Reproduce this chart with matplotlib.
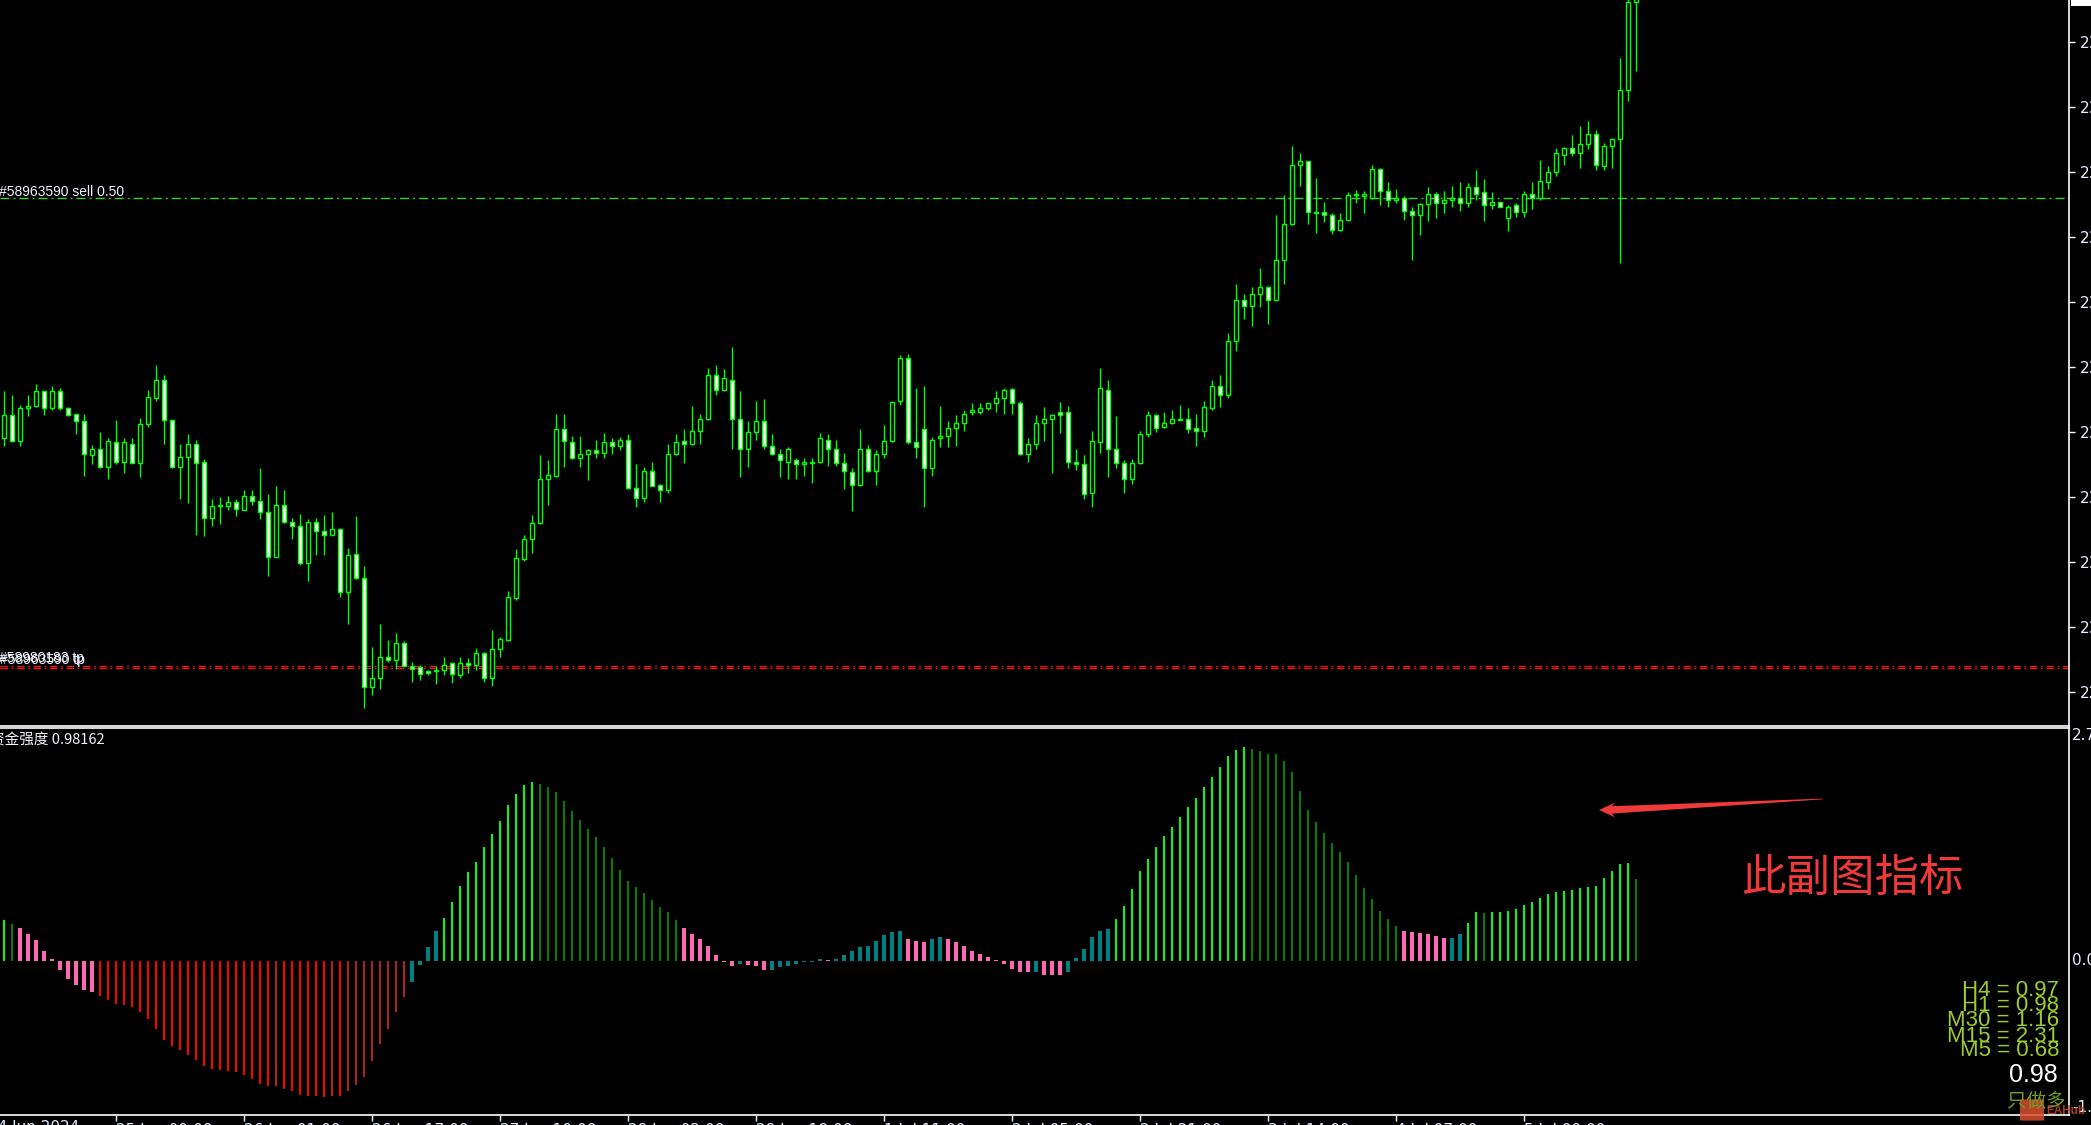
import matplotlib
matplotlib.use("Agg")
import matplotlib.pyplot as plt
from matplotlib.patches import Polygon, Rectangle, FancyBboxPatch
import numpy as np

# ===== Figure geometry (pixels) =====
W, H = 2091, 1125
DPI = 100
AX_RIGHT = 2069
MAIN_BOT = 726
SUB_TOP, SUB_BOT = 728, 1115

# ===== Data: H1 candles (XAUUSD) =====
opens = [
    2314.5, 2316.3, 2314.3, 2316.8, 2317.0, 2318.1, 2316.8, 2318.1, 2316.8, 2316.4,
    2315.8, 2313.2, 2313.7, 2312.3, 2314.2, 2312.7, 2314.1, 2312.6, 2315.6, 2317.6,
    2319.0, 2315.9, 2312.3, 2313.1, 2314.1, 2312.7, 2308.4, 2309.3, 2309.3, 2309.6,
    2309.0, 2310.1, 2309.7, 2308.8, 2305.4, 2309.4, 2308.1, 2307.8, 2304.9, 2308.1,
    2307.4, 2307.1, 2307.5, 2302.7, 2305.6, 2303.8, 2295.4, 2296.1, 2297.7, 2297.5,
    2298.8, 2297.0, 2296.9, 2296.6, 2296.6, 2296.7, 2297.2, 2296.3, 2297.2, 2297.1,
    2298.0, 2296.1, 2298.3, 2299.0, 2302.2, 2305.2, 2306.8, 2308.0, 2311.4, 2311.6,
    2315.2, 2314.2, 2313.0, 2313.3, 2313.6, 2313.4, 2314.2, 2313.9, 2314.4, 2310.7,
    2309.9, 2312.0, 2310.9, 2310.5, 2313.3, 2314.3, 2314.1, 2315.1, 2316.0, 2319.4,
    2318.2, 2319.0, 2316.0, 2313.7, 2315.0, 2315.8, 2313.9, 2313.3, 2312.7, 2312.8,
    2312.5, 2312.7, 2312.7, 2314.4, 2313.7, 2312.6, 2311.9, 2310.9, 2313.7, 2312.0,
    2313.3, 2314.3, 2317.4, 2320.7, 2314.2, 2315.2, 2312.2, 2314.5, 2314.7, 2315.3,
    2315.7, 2316.5, 2316.5, 2316.8, 2317.2, 2317.6, 2318.3, 2317.2, 2313.3, 2314.1,
    2315.7, 2316.0, 2316.5, 2316.5, 2312.7, 2312.5, 2310.3, 2314.2, 2318.2, 2313.7,
    2312.6, 2311.4, 2312.6, 2314.8, 2316.3, 2315.4, 2315.7, 2315.9, 2316.0, 2315.3,
    2315.1, 2316.8, 2318.5, 2317.8, 2322.0, 2325.1, 2324.7, 2325.6, 2326.1, 2325.1,
    2328.2, 2331.0, 2335.5, 2335.8, 2331.8, 2331.9, 2331.7, 2330.5, 2331.3, 2333.2,
    2333.1, 2333.0, 2335.2, 2333.5, 2332.8, 2333.0, 2332.0, 2331.7, 2332.5, 2333.3,
    2332.6, 2332.8, 2333.0, 2332.6, 2333.8, 2333.4, 2332.4, 2332.7, 2331.4, 2332.4,
    2331.9, 2333.3, 2333.0, 2334.2, 2335.0, 2336.3, 2336.8, 2336.4, 2337.1, 2337.9,
    2335.4, 2337.0, 2337.5, 2341.3, 2348.0,
]
highs = [
    2318.1, 2317.8, 2317.1, 2317.8, 2318.7, 2318.1, 2318.5, 2318.4, 2316.9, 2316.4,
    2316.4, 2314.0, 2315.0, 2314.5, 2315.9, 2314.5, 2314.5, 2316.1, 2318.2, 2320.1,
    2319.4, 2315.9, 2314.1, 2314.8, 2314.4, 2312.9, 2309.8, 2310.0, 2310.1, 2309.8,
    2310.5, 2310.5, 2312.2, 2310.2, 2310.8, 2310.5, 2308.4, 2308.7, 2308.3, 2308.4,
    2308.6, 2308.8, 2307.6, 2306.1, 2308.5, 2304.7, 2298.5, 2300.2, 2299.0, 2299.5,
    2298.9, 2297.3, 2297.1, 2296.7, 2297.0, 2297.7, 2297.3, 2297.7, 2297.6, 2298.4,
    2298.1, 2299.8, 2299.2, 2302.8, 2306.0, 2307.1, 2308.6, 2313.2, 2312.8, 2316.4,
    2316.4, 2314.7, 2314.7, 2313.7, 2314.4, 2314.9, 2314.5, 2314.6, 2314.8, 2312.5,
    2312.3, 2312.7, 2311.0, 2314.1, 2314.8, 2315.2, 2317.0, 2316.4, 2319.9, 2320.1,
    2319.8, 2321.5, 2318.1, 2315.8, 2317.4, 2317.5, 2314.8, 2313.7, 2313.8, 2313.0,
    2313.0, 2313.0, 2314.9, 2314.8, 2314.4, 2313.4, 2312.2, 2315.2, 2314.0, 2313.6,
    2315.5, 2317.4, 2320.9, 2321.0, 2318.4, 2318.5, 2314.6, 2317.0, 2315.8, 2316.3,
    2316.7, 2317.2, 2317.2, 2317.2, 2318.1, 2318.4, 2318.4, 2317.4, 2314.5, 2316.3,
    2316.9, 2316.4, 2317.3, 2317.0, 2313.7, 2313.2, 2315.1, 2319.9, 2319.0, 2316.2,
    2312.8, 2312.9, 2315.1, 2316.6, 2316.4, 2316.5, 2316.7, 2317.1, 2316.8, 2316.4,
    2317.4, 2319.0, 2319.4, 2322.6, 2326.4, 2325.6, 2326.1, 2327.6, 2326.2, 2331.7,
    2333.2, 2337.0, 2336.4, 2335.8, 2334.5, 2332.7, 2331.8, 2331.8, 2333.4, 2333.6,
    2333.5, 2335.5, 2335.3, 2334.2, 2333.7, 2333.1, 2332.3, 2332.6, 2333.8, 2333.4,
    2333.5, 2333.9, 2334.2, 2334.1, 2335.1, 2334.4, 2333.4, 2332.7, 2332.4, 2332.6,
    2333.5, 2334.2, 2335.9, 2335.4, 2336.8, 2336.9, 2337.8, 2338.5, 2338.9, 2338.2,
    2337.2, 2337.6, 2343.7, 2348.6, 2349.0,
]
lows = [
    2313.9, 2314.2, 2313.9, 2316.2, 2316.9, 2316.3, 2316.7, 2316.7, 2316.2, 2314.8,
    2311.6, 2312.5, 2312.2, 2311.4, 2312.5, 2311.8, 2312.6, 2311.5, 2315.4, 2317.4,
    2314.1, 2312.2, 2309.8, 2309.5, 2307.1, 2307.0, 2307.8, 2307.9, 2309.0, 2308.5,
    2309.0, 2309.4, 2308.3, 2303.9, 2305.4, 2308.0, 2306.8, 2304.8, 2303.5, 2305.5,
    2305.5, 2307.1, 2302.3, 2300.2, 2303.7, 2293.8, 2294.8, 2295.2, 2297.3, 2296.8,
    2297.0, 2295.8, 2295.9, 2296.3, 2295.6, 2296.3, 2295.7, 2296.1, 2296.5, 2296.7,
    2295.8, 2295.5, 2297.7, 2298.9, 2302.1, 2305.1, 2305.7, 2307.9, 2309.4, 2311.5,
    2312.3, 2312.9, 2312.3, 2311.3, 2313.0, 2313.0, 2313.3, 2313.6, 2310.6, 2309.2,
    2309.6, 2310.8, 2309.6, 2310.3, 2313.2, 2312.6, 2314.0, 2314.1, 2315.9, 2317.8,
    2318.1, 2313.7, 2311.5, 2312.3, 2314.4, 2313.7, 2313.2, 2311.5, 2311.4, 2311.4,
    2311.6, 2311.1, 2312.6, 2312.4, 2312.4, 2310.6, 2308.9, 2310.8, 2311.9, 2310.9,
    2313.0, 2314.2, 2317.1, 2314.1, 2313.0, 2309.2, 2311.6, 2313.8, 2313.8, 2313.9,
    2315.1, 2316.3, 2316.4, 2316.7, 2316.5, 2316.4, 2316.4, 2313.2, 2312.7, 2313.7,
    2314.3, 2311.8, 2314.9, 2312.2, 2312.1, 2309.8, 2309.2, 2313.4, 2311.5, 2312.2,
    2310.3, 2311.0, 2312.5, 2314.6, 2315.0, 2315.3, 2315.6, 2315.9, 2314.9, 2313.9,
    2314.6, 2316.7, 2316.9, 2317.6, 2321.2, 2323.7, 2323.1, 2324.6, 2323.3, 2325.1,
    2326.4, 2330.9, 2333.9, 2331.0, 2330.3, 2331.1, 2330.2, 2330.4, 2331.2, 2332.6,
    2331.8, 2332.9, 2332.4, 2332.3, 2332.6, 2331.3, 2328.2, 2330.1, 2331.2, 2331.4,
    2331.8, 2332.3, 2332.0, 2332.3, 2332.8, 2331.2, 2332.1, 2332.3, 2330.4, 2331.5,
    2331.5, 2332.1, 2332.8, 2333.7, 2334.7, 2335.5, 2336.2, 2335.3, 2336.7, 2335.1,
    2335.1, 2335.3, 2328.0, 2340.4, 2342.7,
]
closes = [
    2316.3, 2314.3, 2316.8, 2317.0, 2318.1, 2316.8, 2318.1, 2316.8, 2316.3, 2315.8,
    2313.3, 2313.7, 2312.3, 2314.3, 2312.7, 2314.2, 2312.6, 2315.6, 2317.7, 2319.0,
    2315.9, 2312.3, 2313.1, 2314.1, 2312.6, 2308.4, 2309.3, 2309.3, 2309.6, 2309.1,
    2310.1, 2309.7, 2308.8, 2305.4, 2309.4, 2308.1, 2307.8, 2304.9, 2308.1, 2307.4,
    2307.1, 2307.5, 2302.7, 2305.5, 2303.8, 2295.4, 2296.1, 2297.7, 2297.5, 2298.8,
    2297.0, 2296.8, 2296.4, 2296.5, 2296.7, 2297.1, 2296.4, 2297.2, 2297.1, 2298.0,
    2296.1, 2298.3, 2299.1, 2302.3, 2305.3, 2306.8, 2308.0, 2311.4, 2311.7, 2315.2,
    2314.3, 2313.0, 2313.3, 2313.6, 2313.4, 2314.2, 2313.9, 2314.4, 2310.7, 2309.9,
    2312.0, 2310.8, 2310.5, 2313.3, 2314.2, 2314.1, 2315.1, 2316.0, 2319.4, 2318.2,
    2319.1, 2316.0, 2313.7, 2315.0, 2315.8, 2313.9, 2313.3, 2312.8, 2313.7, 2312.5,
    2312.7, 2312.6, 2314.5, 2313.7, 2312.6, 2312.0, 2310.9, 2313.7, 2312.0, 2313.3,
    2314.3, 2317.3, 2320.7, 2314.2, 2313.8, 2312.2, 2314.4, 2314.7, 2315.3, 2315.7,
    2316.4, 2316.7, 2316.8, 2317.2, 2317.6, 2318.2, 2317.2, 2313.3, 2314.1, 2315.7,
    2316.0, 2316.3, 2316.3, 2312.7, 2312.5, 2310.2, 2314.3, 2318.4, 2313.7, 2312.6,
    2311.4, 2312.6, 2314.8, 2316.3, 2315.3, 2315.7, 2316.0, 2316.0, 2315.2, 2315.1,
    2316.9, 2318.5, 2317.8, 2322.0, 2325.1, 2324.7, 2325.6, 2326.1, 2325.1, 2328.2,
    2331.0, 2335.5, 2335.8, 2331.9, 2331.9, 2331.7, 2330.5, 2331.3, 2333.2, 2333.3,
    2333.3, 2335.2, 2333.5, 2332.8, 2333.0, 2332.0, 2331.7, 2332.5, 2333.3, 2332.6,
    2332.8, 2333.0, 2332.6, 2333.8, 2333.3, 2332.4, 2332.7, 2332.3, 2332.3, 2331.9,
    2333.3, 2333.0, 2334.3, 2335.0, 2336.4, 2336.8, 2336.4, 2337.1, 2337.9, 2335.5,
    2337.0, 2337.5, 2341.3, 2348.0, 2348.4,
]

# ===== Data: indicator histogram =====
hist_vals = [
    0.49, 0.44, 0.39, 0.32, 0.25, 0.12, 0.02, -0.11, -0.22, -0.29,
    -0.35, -0.37, -0.42, -0.47, -0.52, -0.53, -0.56, -0.61, -0.70, -0.82,
    -0.95, -1.02, -1.07, -1.13, -1.19, -1.27, -1.30, -1.31, -1.33, -1.34,
    -1.37, -1.42, -1.48, -1.51, -1.50, -1.54, -1.57, -1.61, -1.62, -1.63,
    -1.64, -1.63, -1.63, -1.56, -1.49, -1.40, -1.20, -1.00, -0.82, -0.61,
    -0.43, -0.25, -0.05, 0.16, 0.36, 0.51, 0.70, 0.90, 1.06, 1.18,
    1.36, 1.52, 1.68, 1.87, 2.00, 2.11, 2.14, 2.12, 2.08, 2.03,
    1.92, 1.80, 1.69, 1.58, 1.48, 1.36, 1.23, 1.09, 0.96, 0.88,
    0.81, 0.73, 0.64, 0.58, 0.49, 0.39, 0.32, 0.26, 0.18, 0.07,
    -0.02, -0.06, -0.04, -0.05, -0.06, -0.11, -0.11, -0.08, -0.06, -0.04,
    -0.02, -0.01, 0.02, 0.01, 0.02, 0.07, 0.12, 0.16, 0.18, 0.24,
    0.31, 0.34, 0.36, 0.26, 0.24, 0.22, 0.26, 0.28, 0.26, 0.22,
    0.18, 0.12, 0.08, 0.04, 0.01, -0.04, -0.10, -0.14, -0.14, -0.14,
    -0.17, -0.17, -0.17, -0.13, 0.03, 0.14, 0.28, 0.36, 0.38, 0.50,
    0.66, 0.86, 1.08, 1.22, 1.36, 1.50, 1.60, 1.72, 1.84, 1.95,
    2.08, 2.20, 2.32, 2.46, 2.53, 2.56, 2.54, 2.52, 2.48, 2.48,
    2.40, 2.26, 2.04, 1.81, 1.66, 1.53, 1.41, 1.30, 1.18, 1.03,
    0.87, 0.74, 0.60, 0.50, 0.42, 0.36, 0.34, 0.33, 0.32, 0.30,
    0.27, 0.27, 0.32, 0.45, 0.58, 0.57, 0.58, 0.58, 0.60, 0.62,
    0.67, 0.70, 0.75, 0.80, 0.82, 0.84, 0.85, 0.87, 0.88, 0.90,
    0.99, 1.08, 1.16, 1.17, 0.98,
]
# G up-strong, g up-weak, R down-strong, r down-weak, P / T transition
hist_codes = list(
    "GgPPPPPPPP" "PPRRRRRRRR" "RRRRRRRRRR" "RRRRrRRRRR" "RrRrrrrrrr"
    "rTTTTGGGGG" "GGGGGGGggg" "gggggggggg" "gggggPPPPP" "PPTPPPTTTT"
    "TTTPTTTTTT" "TTTPPPTTPP" "PPPPPPPPPT" "PPPTTTTTTG" "GGGGGGGGGG"
    "GGGGGGgggg" "gggggggggg" "gggggPPPPP" "PTTGGgGGGG" "GGGGGGGGGG"
    "GGGGg"
)

# ===== Data: levels, axis labels, panel text =====
sell_level = 2332.95
tp_levels = [2297.03, 2296.83]
price_ticks = [2295, 2300, 2305, 2310, 2315, 2320, 2325, 2330, 2335, 2340, 2345]
first_time_label = "24 Jun 2024"
time_tick_bars = [14, 30, 46, 62, 78, 94, 110, 126, 142, 158, 174, 190]
time_tick_labels = ["25 Jun 09:00", "26 Jun 01:00", "26 Jun 17:00",
                    "27 Jun 10:00", "28 Jun 02:00", "28 Jun 18:00", "1 Jul 11:00",
                    "2 Jul 05:00", "2 Jul 21:00", "3 Jul 14:00", "4 Jul 07:00",
                    "5 Jul 00:00"]
tf_names = ["H4", "H1", "M30", "M15", "M5"]
tf_values = [0.97, 0.98, 1.16, 2.31, 0.68]
ind_value = 0.98162

COLORS = {"G": "#00FF00", "g": "#008000", "R": "#FF0000", "r": "#B22222",
          "P": "#FF69B4", "T": "#008080"}
WIDTHS = {"G": 0.36, "g": 0.36, "R": 0.36, "r": 0.36, "P": 0.6, "T": 0.6}
LIME = "#00FF00"
LABEL_C = "#E8EEFF"


def fx(px):
    return px / W


def fy(py):
    return 1 - py / H


def style_axes(a):
    a.set_facecolor("black")
    for s in a.spines.values():
        s.set_color("white")
        s.set_linewidth(1.2)
    a.spines["left"].set_visible(False)


fig = plt.figure(figsize=(W / DPI, H / DPI), dpi=DPI, facecolor="black")
ax = fig.add_axes([0, fy(MAIN_BOT), fx(AX_RIGHT), MAIN_BOT / H])
ax2 = fig.add_axes([0, fy(SUB_BOT), fx(AX_RIGHT), (SUB_BOT - SUB_TOP) / H], sharex=ax)
style_axes(ax)
style_axes(ax2)
ax.spines["top"].set_visible(False)

# ===== Candles =====
o = np.array(opens)
h = np.array(highs)
l = np.array(lows)
c = np.array(closes)
x = np.arange(len(c))
bull = c >= o
ax.vlines(x, l, h, color=LIME, lw=1.0, zorder=2)
ax.bar(x, np.maximum(np.abs(c - o), 0.08), bottom=np.minimum(o, c), width=0.58,
       color=np.where(bull, "black", "white"), edgecolor=LIME, linewidth=1.0, zorder=3)

# order lines
ax.axhline(sell_level, color="#2BD92B", lw=1.0, ls=(0, (6.5, 2.9, 1.4, 2.9)), zorder=1)
for lv in tp_levels:
    ax.axhline(lv, color="#FF1010", lw=0.9, ls=(0, (6.0, 2.9, 1.4, 2.9)), zorder=1)

# ===== Histogram =====
hx = np.arange(len(hist_vals))
ax2.bar(hx, hist_vals, width=[WIDTHS[k] for k in hist_codes],
        color=[COLORS[k] for k in hist_codes], linewidth=0)

# ===== Axes ticks =====
ax.yaxis.tick_right()
ax.set_yticks(price_ticks)
ax.set_yticklabels([f"{v:.2f}" for v in price_ticks])
ax.tick_params(axis="y", colors="white", labelcolor=LABEL_C, direction="out",
               length=4, width=1, pad=4, labelsize=11)
ax.tick_params(axis="x", bottom=False, labelbottom=False)

ax2.yaxis.tick_right()
ax2.set_yticks([2.7935, 0.0, -1.8523])
ax2.set_yticklabels(["2.7935", "0.0000", "-1.8523"])
ax2.tick_params(axis="y", colors="white", labelcolor=LABEL_C, length=0, pad=2,
                labelsize=11)
for lab, va in zip(ax2.get_yticklabels(), ["top", "center", "bottom"]):
    lab.set_va(va)

ax2.set_xticks(time_tick_bars)
ax2.set_xticklabels(time_tick_labels)
ax2.tick_params(axis="x", colors="white", labelcolor=LABEL_C, direction="out",
                length=4, width=1, pad=2, labelsize=11)
for lab in ax2.get_xticklabels():
    lab.set_ha("left")

# limits last, so tick setting cannot widen them; bar i sits at pixel 4 + 8*i
ax.set_xlim(-0.5, (AX_RIGHT - 4) / 8)
ax.set_ylim(2292.39, 2348.19)
ax2.set_ylim(-1.8523, 2.7935)

# label of the time tick that falls just left of the chart
ax2.text(-2, -0.012, first_time_label, transform=ax2.get_xaxis_transform(),
         color=LABEL_C, fontsize=11, ha="left", va="top", clip_on=False)

# ===== Text annotations =====
fig.text(fx(-1), fy(196), "#58963590 sell 0.50", color="#F0F2FF", fontsize=10,
         family="Liberation Sans", va="baseline")
fig.text(fx(-1), fy(662), "#58980183 tp", color="#F0F2FF", fontsize=10,
         family="Liberation Sans", va="baseline")
fig.text(fx(0), fy(664), "#58963590 tp", color="#F0F2FF", fontsize=10,
         family="Liberation Sans", va="baseline")

fig.text(fx(-10), fy(733), f"资金强度 {ind_value:.5f}", color="#F4F6FF", fontsize=10.5,
         family=["Noto Sans CJK SC", "DejaVu Sans"], va="top")

fig.text(fx(1852), fy(878), "此副图指标", color="#F03A3A", fontsize=32,
         family=["Noto Sans CJK SC"], ha="center", va="center")

arrow_px = [(1599, 810), (1615, 802.7), (1612, 806.2), (1822, 798.6),
            (1822, 799.4), (1612, 813.6), (1615, 817.3)]
fig.add_artist(Polygon([(fx(a), fy(b)) for a, b in arrow_px], closed=True,
                       transform=fig.transFigure, color="#F03A3A", lw=0))

line_y = [990.8, 1005.5, 1021.0, 1036.0, 1050.8]
for name, val, yy in zip(tf_names, tf_values, line_y):
    fig.text(fx(2059), fy(yy), f"{name} = {val:.2f}", color="#9ACD32", fontsize=16,
             family="Liberation Sans", ha="right", va="center")
fig.text(fx(2058), fy(1075), f"{ind_value:.2f}", color="white", fontsize=18,
         family="Liberation Sans", ha="right", va="center")
fig.text(fx(2066), fy(1102), "只做多", color="#6E9E28", fontsize=14,
         family=["Noto Sans CJK SC"], ha="right", va="center")

# watermark
fig.add_artist(FancyBboxPatch((fx(2021), fy(1120)), fx(22), 20 / H,
                              boxstyle="round,pad=0.0005", transform=fig.transFigure,
                              color="#D9502F", alpha=0.85, lw=0))
fig.text(fx(2046), fy(1111), "EAHub", color="#C0452A", fontsize=8.5, alpha=0.85,
         family="Liberation Sans", weight="bold", va="center")

# current price box on the axis
fig.add_artist(Rectangle((fx(2071), fy(6)), fx(W - 2071), 6 / H,
                         transform=fig.transFigure, color="white", lw=0))

plt.savefig("out.png", dpi=DPI, facecolor="black")
